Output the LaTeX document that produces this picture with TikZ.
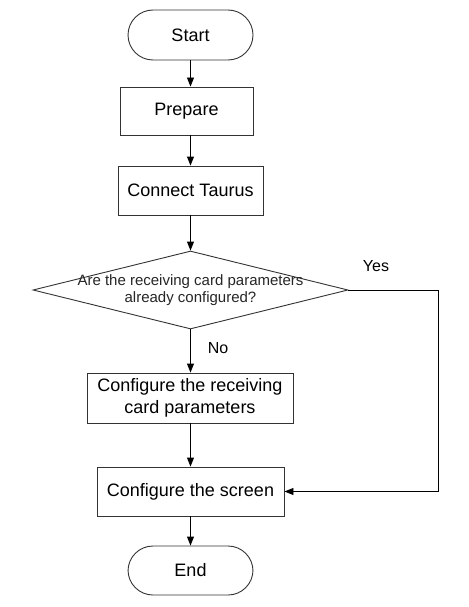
\documentclass[tikz,border=0pt]{standalone}
\usepackage{fontspec}
\setmainfont{Liberation Sans}
\usetikzlibrary{shapes.geometric,arrows.meta}
\begin{document}
\begin{tikzpicture}[x=1pt,y=-1pt,
  shp/.style={draw=black!80,line width=0.9pt,fill=white,inner sep=0pt,font=\fontsize{18}{22}\selectfont,align=center},
  proc/.style={shp,rectangle},
  term/.style={shp,rectangle,rounded corners=25pt},
  arr/.style={draw=black,line width=0.9pt,-{Triangle[length=9pt,width=7pt]}},
  lbl/.style={font=\fontsize{16}{18}\selectfont,inner sep=0pt}]
\useasboundingbox (0,0) rectangle (468,607);
\fill[white] (0,0) rectangle (468,607);
\node[term,minimum width=125pt,minimum height=50pt] (start) at (190.5,35) {Start};
\node[proc,minimum width=133pt,minimum height=48pt] (prep) at (186.5,111) {Prepare};
\node[proc,minimum width=145pt,minimum height=49pt] (conn) at (190.5,190.5) {Connect Taurus};
\node[shp,diamond,aspect=4.04,minimum width=315pt,minimum height=78pt,
  label={[font=\fontsize{15}{17.5}\selectfont,align=center,text=black!85]center:Are the receiving card parameters\\already configured?}] (dec) at (190.5,290) {};
\node[proc,minimum width=206pt,minimum height=50pt] (recv) at (190,398) {Configure the receiving\\card parameters};
\node[proc,minimum width=187pt,minimum height=49pt] (scr) at (190.5,491.5) {Configure the screen};
\node[term,minimum width=125pt,minimum height=49pt] (end) at (190.5,570.5) {End};
\coordinate (yc) at (438,290);
\draw[arr] (start.south) -- (start.south |- prep.north);
\draw[arr] (start.south |- prep.south) -- (start.south |- conn.north);
\draw[arr] (conn.south) -- (dec.north);
\draw[arr] (dec.south) -- (dec.south |- recv.north);
\draw[arr] (dec.south |- recv.south) -- (dec.south |- scr.north);
\draw[arr] (scr.south) -- (end.north);
\draw[arr] (dec.east) -- (yc) |- (scr.east);
\node[lbl] (yes) at (376,266) {Yes};
\node[lbl] (no) at (218,348) {No};
\end{tikzpicture}
\end{document}
